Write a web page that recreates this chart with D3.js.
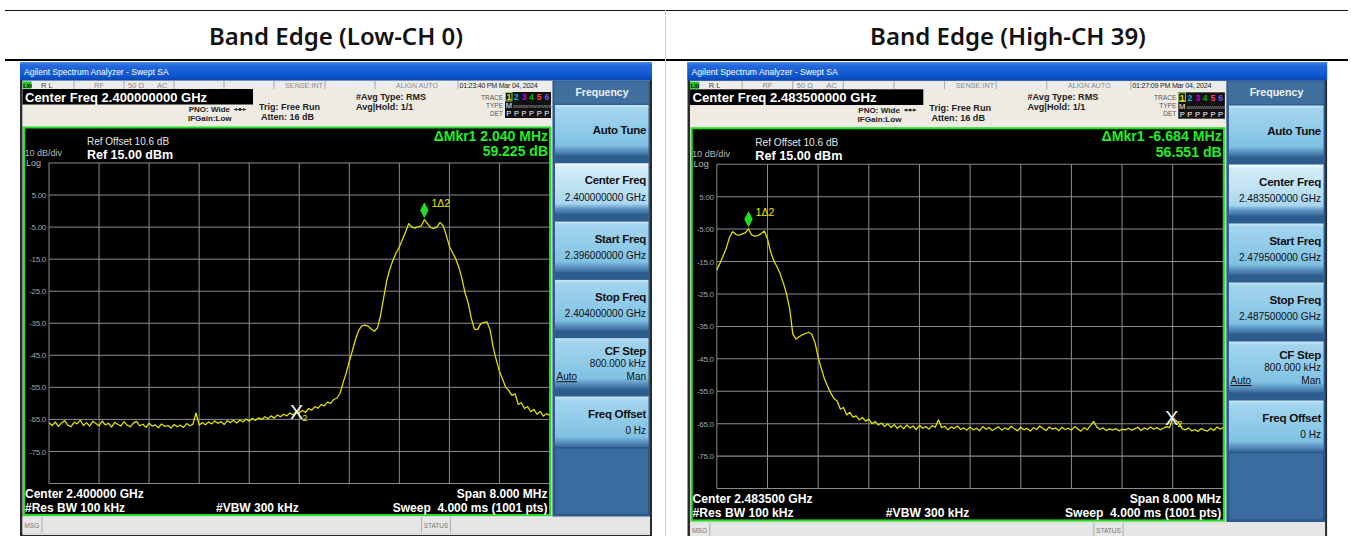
<!DOCTYPE html>
<html>
<head>
<meta charset="utf-8">
<script src="https://cdn.jsdelivr.net/npm/d3@7"></script>
<style>
  body { margin: 0; background: #fff; }
  svg { display: block; }
  text { font-family: "Liberation Sans", Arial, sans-serif; }
</style>
</head>
<body>
<div id="chart"></div>
<script>
// ---- data ----
const panelTitles = ["Band Edge (Low-CH 0)", "Band Edge (High-CH 39)"];
const startFreqs = [2.396, 2.4795];   // GHz
const stopFreqs = [2.404, 2.4875];    // GHz
const refLevel = 15;                   // dBm, top line
const dbPerDiv = 10;
const yTickValues = [5, -5, -15, -25, -35, -45, -55, -65, -75];
const yTickLabels = ["5.00", "-5.00", "-15.0", "-25.0", "-35.0", "-45.0", "-55.0", "-65.0", "-75.0"];

// trace values (dBm), 161 points across the 8 MHz span
const lowTrace = [
  -66.0, -66.9, -65.8, -67.2, -66.1, -65.4, -66.8, -67.3, -65.9, -66.4,
  -65.2, -66.9, -66.0, -67.1, -65.6, -66.3, -67.0, -65.5, -66.7, -66.2,
  -67.4, -65.9, -66.6, -67.0, -65.7, -66.8, -67.3, -66.1, -65.6, -67.0,
  -66.5, -67.5, -66.2, -67.1, -66.7, -67.6, -66.4, -67.2, -66.9, -67.7,
  -66.6, -67.3, -66.8, -67.5, -66.3, -67.0, -66.5, -63.0, -66.8, -66.0,
  -66.7, -65.8, -66.4, -65.5, -66.2, -65.7, -66.6, -65.4, -66.0, -65.3,
  -66.1, -65.2, -65.8, -64.9, -65.6, -64.7, -65.3, -64.5, -65.0, -64.2,
  -64.8, -63.9, -64.6, -63.6, -64.2, -63.4, -63.9, -63.0, -63.6, -62.6,
  -62.9, -62.2, -62.8, -61.6, -62.1, -61.0, -61.5, -60.4, -60.8, -59.6,
  -60.0, -58.8, -58.4, -57.0, -53.6, -50.5, -47.0, -43.5, -40.0, -37.2,
  -35.8, -35.6, -35.9, -36.8, -37.5, -36.5, -32.5, -27.0, -21.5, -18.0,
  -15.2, -13.0, -11.2, -8.8, -6.5, -3.9, -5.0, -5.3, -4.9, -4.6,
  -2.7, -3.9, -5.2, -5.4, -5.0, -3.5, -4.6, -7.5, -11.0, -13.0,
  -14.8, -17.5, -21.0, -25.5, -28.7, -33.5, -36.8, -37.0, -35.2, -34.7,
  -34.6, -37.0, -42.5, -46.5, -50.0, -52.5, -55.0, -56.0, -57.5, -57.0,
  -60.3, -59.8, -61.6, -61.0, -62.6, -61.9, -63.4, -62.5, -64.0, -63.2, -63.8
];
const highTrace = [
  -17.5, -15.5, -13.2, -10.8, -7.5, -5.8, -6.6, -6.9, -6.5, -6.2,
  -4.9, -6.8, -7.2, -7.0, -6.4, -5.6, -8.0, -12.0, -14.8, -16.6,
  -18.8, -21.6, -25.0, -29.5, -37.4, -38.9, -38.2, -37.6, -37.2, -36.8,
  -37.4, -40.0, -44.5, -48.0, -51.2, -53.5, -55.6, -57.2, -58.0, -60.5,
  -60.0, -62.3, -61.5, -63.0, -62.6, -63.8, -63.1, -64.2, -63.6, -65.0,
  -64.3, -65.4, -64.8, -65.9, -65.0, -66.2, -65.3, -66.4, -65.6, -66.6,
  -65.4, -66.3, -65.7, -66.8, -65.5, -66.4, -65.9, -66.7, -65.6, -66.1,
  -63.8, -66.2, -65.8, -66.9, -66.0, -66.5, -65.7, -66.8, -66.3, -67.0,
  -66.0, -66.9, -66.4, -67.2, -65.9, -66.7, -66.2, -67.1, -66.5, -66.0,
  -67.0, -66.3, -66.8, -65.8, -66.6, -67.2, -66.1, -66.9, -66.4, -67.3,
  -66.2, -66.8, -65.7, -66.5, -67.1, -66.0, -66.7, -66.3, -67.2, -66.1,
  -66.8, -66.4, -67.0, -65.9, -66.6, -67.3, -66.2, -66.9, -65.6, -64.3,
  -66.0, -66.8, -66.3, -67.1, -66.6, -66.9, -66.5, -67.2, -66.7, -66.9,
  -66.4, -67.0, -66.6, -66.1, -67.1, -66.3, -66.8, -66.0, -66.7, -66.2,
  -66.9, -66.4, -65.9, -66.2, -63.2, -64.0, -64.8, -66.6, -66.9, -66.3,
  -67.2, -66.8, -67.4, -66.5, -67.0, -67.3, -66.4, -67.1, -66.0, -66.7, -66.2
];
const traces = [lowTrace, highTrace];

const marker2Freqs = [2.39996, 2.486684];  // GHz, delta reference markers
const deltaMkrFreq = ["\u0394Mkr1 2.040 MHz", "\u0394Mkr1 -6.684 MHz"];
const deltaMkrLevel = ["59.225 dB", "56.551 dB"];
const centerFreqTitles = ["Center Freq 2.400000000 GHz", "Center Freq 2.483500000 GHz"];
const centerFreqValues = ["2.400000000 GHz", "2.483500000 GHz"];
const startFreqValues = ["2.396000000 GHz", "2.479500000 GHz"];
const stopFreqValues = ["2.404000000 GHz", "2.487500000 GHz"];
const footerCenters = ["Center 2.400000 GHz", "Center 2.483500 GHz"];
const timeStamps = ["01:23:40 PM Mar 04, 2024", "01:27:09 PM Mar 04, 2024"];

// ---- layout ----
const W = 1351, H = 536;
const panelOrigins = [[20, 62], [687.5, 62]];
const panelScales = [1, 1.012];
const titleCenters = [336, 1008];
const grid = { left: 29, right: 529.5, top: 101, bottom: 421.5 };

const svg = d3.select("#chart").append("svg")
  .attr("width", W)
  .attr("height", H);

const defs = svg.append("defs");

function addGradient(id, stops) {
  let grad = defs.append("linearGradient").attr("id", id)
    .attr("x1", 0).attr("y1", 0).attr("x2", 0).attr("y2", 1);
  stops.forEach(s => grad.append("stop").attr("offset", s[0]).attr("stop-color", s[1]));
}
addGradient("titleGrad", [[0, "#4a8cf0"], [0.18, "#2468dc"], [0.75, "#0e56d0"], [1, "#0a44b0"]]);
addGradient("btnGrad", [[0, "#cbe8f6"], [0.07, "#a4d4ee"], [0.5, "#8ecae8"], [0.8, "#80c0e2"], [0.9, "#5a92c0"], [1, "#386a9a"]]);
addGradient("btnSelGrad", [[0, "#f6fbfe"], [0.08, "#d4ecf8"], [0.5, "#bde0f3"], [0.8, "#a8d6ee"], [0.9, "#5a92c0"], [1, "#386a9a"]]);

// ---- table frame ----
svg.append("line").attr("x1", 5).attr("x2", 1348).attr("y1", 10.5).attr("y2", 10.5)
  .attr("stroke", "#111").attr("stroke-width", 1);
svg.append("line").attr("x1", 5).attr("x2", 1348).attr("y1", 60).attr("y2", 60)
  .attr("stroke", "#000").attr("stroke-width", 2);
svg.append("line").attr("x1", 665.5).attr("x2", 665.5).attr("y1", 10).attr("y2", H)
  .attr("stroke", "#d4d4d4").attr("stroke-width", 1);

svg.selectAll("text.colTitle")
  .data(panelTitles)
  .join("text")
  .attr("class", "colTitle")
  .attr("x", (d, i) => titleCenters[i])
  .attr("y", 44.5)
  .attr("text-anchor", "middle")
  .style("font-family", "'Noto Sans', 'Open Sans', sans-serif")
  .style("font-weight", 600)
  .style("font-size", "24px")
  .attr("fill", "#111")
  .text(d => d);

// ---- one analyzer screenshot ----
function drawAnalyzer(p) {
  let g = svg.append("g")
    .attr("transform", `translate(${panelOrigins[p][0]},${panelOrigins[p][1]}) scale(${panelScales[p]})`);

  function txt(x, y, s, size, fill, opts) {
    opts = opts || {};
    return g.append("text")
      .attr("x", x).attr("y", y)
      .attr("font-size", size)
      .attr("fill", fill)
      .attr("font-weight", opts.bold ? "bold" : "normal")
      .attr("text-anchor", opts.anchor || "start")
      .style("white-space", "pre")
      .text(s);
  }

  // window frame
  g.append("rect").attr("x", 0).attr("y", 0).attr("width", 632).attr("height", 480).attr("fill", "#2a2a2a");
  g.append("rect").attr("x", 2.5).attr("y", 18).attr("width", 627.5).attr("height", 455).attr("fill", "#dcdcdc");

  // title bar
  g.append("rect").attr("x", 0).attr("y", 0).attr("width", 632).attr("height", 18.5).attr("fill", "url(#titleGrad)");
  txt(4, 12.5, "Agilent Spectrum Analyzer - Swept SA", 8.5, "#ffffff");

  // status row
  g.append("rect").attr("x", 2.5).attr("y", 19).attr("width", 529.5).attr("height", 8).attr("fill", "#ececec");
  [54, 104, 154, 204, 254, 305, 355, 438].forEach(sx => {
    g.append("line").attr("x1", sx).attr("x2", sx).attr("y1", 19).attr("y2", 27).attr("stroke", "#a8a8a8");
  });
  g.append("rect").attr("x", 2.5).attr("y", 19.5).attr("width", 9).attr("height", 7).attr("fill", "#27c427");
  txt(3.2, 25.6, "LXI", 5.5, "#000", { bold: true });
  txt(21, 25.8, "R L", 7.5, "#444");
  txt(79, 25.8, "RF", 7.5, "#8a8a8a", { anchor: "middle" });
  txt(108, 25.8, "50 \u03A9", 7.5, "#8a8a8a");
  txt(137, 25.8, "AC", 7.5, "#8a8a8a");
  txt(303, 25.8, "SENSE:INT", 7.2, "#8a8a8a", { anchor: "end" });
  txt(397, 25.8, "ALIGN AUTO", 7, "#8a8a8a", { anchor: "middle" });
  txt(439.5, 25.8, timeStamps[p], 7.1, "#222").attr("letter-spacing", -0.25);

  // settings area
  g.append("rect").attr("x", 2.5).attr("y", 27).attr("width", 529.5).attr("height", 37.5).attr("fill", "#eeebe3");
  g.append("rect").attr("x", 2.5).attr("y", 27).attr("width", 230.5).attr("height", 15.5).attr("fill", "#000");
  txt(5, 40, centerFreqTitles[p], 13, "#fff", { bold: true });
  txt(210, 50, "PNO: Wide", 8, "#222", { bold: true, anchor: "end" });
  g.append("line").attr("x1", 214).attr("x2", 226).attr("y1", 47.5).attr("y2", 47.5)
    .attr("stroke", "#222").attr("stroke-width", 0.8);
  g.append("path").attr("d", "M214,47.5l3,-1.6v3.2Z M226,47.5l-3,-1.6v3.2Z").attr("fill", "#222");
  g.append("circle").attr("cx", 220).attr("cy", 47.5).attr("r", 1.4).attr("fill", "#222");
  txt(168, 59, "IFGain:Low", 8, "#222", { bold: true });
  txt(239, 48, "Trig: Free Run", 9, "#222", { bold: true });
  txt(241, 58, "Atten: 16 dB", 9, "#222", { bold: true });
  txt(336, 37.5, "#Avg Type: RMS", 9, "#222", { bold: true });
  txt(336, 47.5, "Avg|Hold: 1/1", 9, "#222", { bold: true });

  // trace legend block
  txt(483, 37.5, "TRACE", 6.5, "#555", { anchor: "end" });
  txt(483, 45.5, "TYPE", 6.5, "#555", { anchor: "end" });
  txt(483, 53.5, "DET", 6.5, "#555", { anchor: "end" });
  g.append("rect").attr("x", 485).attr("y", 30).attr("width", 46).attr("height", 26).attr("fill", "#111");
  const traceColors = ["#e8e800", "#00b4f0", "#d000d0", "#00b000", "#ff3c64", "#6a5cff"];
  g.append("rect").attr("x", 485.5).attr("y", 30.5).attr("width", 6.5).attr("height", 8.5)
    .attr("fill", "none").attr("stroke", "#9acd32").attr("stroke-width", 1);
  traceColors.forEach((c, i) => {
    txt(488.8 + i * 7.6, 38.3, String(i + 1), 8.5, c, { bold: true, anchor: "middle" });
    txt(488.8 + i * 7.6, 54.3, "P", 7.5, "#fff", { anchor: "middle" });
  });
  txt(488.8, 46.3, "M", 7.5, "#fff", { anchor: "middle" });
  txt(493, 46.3, "WWWWWWWWWW", 4.2, "#aaa");

  // display
  g.append("rect").attr("x", 4.2).attr("y", 65.5).attr("width", 525.8).attr("height", 387.5)
    .attr("fill", "#000").attr("stroke", "#1fe01f").attr("stroke-width", 2);

  let x = d3.scaleLinear().domain([startFreqs[p], stopFreqs[p]]).range([grid.left, grid.right]);
  let y = d3.scaleLinear().domain([refLevel, refLevel - 10 * dbPerDiv]).range([grid.top, grid.bottom]);
  let span = stopFreqs[p] - startFreqs[p];

  let gridG = g.append("g").attr("stroke", "#8c8c8c").attr("stroke-width", 1);
  gridG.selectAll("line.v").data(d3.range(11)).join("line")
    .attr("x1", i => x(startFreqs[p] + i * span / 10))
    .attr("x2", i => x(startFreqs[p] + i * span / 10))
    .attr("y1", grid.top).attr("y2", grid.bottom);
  gridG.selectAll("line.h").data(d3.range(11)).join("line")
    .attr("x1", grid.left).attr("x2", grid.right)
    .attr("y1", i => y(refLevel - i * dbPerDiv))
    .attr("y2", i => y(refLevel - i * dbPerDiv));

  let yAxis = d3.axisLeft(y)
    .tickValues(yTickValues)
    .tickFormat((d, i) => yTickLabels[i])
    .tickSize(0)
    .tickPadding(3);
  let ya = g.append("g").attr("transform", `translate(${grid.left},0)`).call(yAxis);
  ya.select(".domain").remove();
  ya.attr("font-family", "'Liberation Sans', Arial, sans-serif").attr("font-size", 8);
  ya.selectAll("text").attr("fill", "#a4a4a4").attr("letter-spacing", -0.3);

  // display annotations
  txt(67, 83, "Ref Offset 10.6 dB", 10, "#e6e6e6");
  txt(67, 96.5, "Ref 15.00 dBm", 12.5, "#fff", { bold: true });
  txt(4.5, 93.5, "10 dB/div", 9, "#b8b8b8");
  txt(6, 104, "Log", 9, "#b8b8b8");
  txt(528, 78.5, deltaMkrFreq[p], 14, "#22ee22", { bold: true, anchor: "end" });
  txt(528, 93.5, deltaMkrLevel[p], 14, "#22ee22", { bold: true, anchor: "end" });

  txt(5, 436, footerCenters[p], 12, "#fff", { bold: true });
  txt(5, 450, "#Res BW 100 kHz", 12, "#fff", { bold: true });
  txt(196, 450, "#VBW 300 kHz", 12, "#fff", { bold: true });
  txt(527.5, 436, "Span 8.000 MHz", 12, "#fff", { bold: true, anchor: "end" });
  txt(527.5, 450, "Sweep  4.000 ms (1001 pts)", 12, "#fff", { bold: true, anchor: "end" });

  // trace
  let trace = traces[p];
  let step = span / (trace.length - 1);
  let line = d3.line()
    .x((d, i) => x(startFreqs[p] + i * step))
    .y(d => y(d));
  g.append("path")
    .datum(trace)
    .attr("d", line)
    .attr("fill", "none")
    .attr("stroke", "#e4e400")
    .attr("stroke-width", 1.25)
    .attr("stroke-linejoin", "round");

  // marker 1 (peak) - green diamond
  let pk = d3.maxIndex(trace);
  let mx = x(startFreqs[p] + pk * step), my = y(trace[pk]);
  g.append("path")
    .attr("d", `M${mx},${my - 17.5}L${mx + 4.2},${my - 9.5}L${mx},${my - 1.5}L${mx - 4.2},${my - 9.5}Z`)
    .attr("fill", "#22dd22");
  txt(mx + 7, my - 12.5, "1\u03942", 10.5, "#e8e800");

  // marker 2 (reference) - white X
  let m2 = Math.round((marker2Freqs[p] - startFreqs[p]) / step);
  let m2x = x(marker2Freqs[p]), m2y = y(trace[m2]);
  txt(m2x, m2y + 7.5, "X", 20, "#f2f2f2", { anchor: "middle" }).attr("font-weight", 300);
  txt(m2x + 5.5, m2y + 9.5, "2", 9.5, "#e8e800");

  // message bar
  g.append("rect").attr("x", 2.5).attr("y", 455).attr("width", 627.5).attr("height", 16).attr("fill", "#e6e6e6");
  g.append("line").attr("x1", 22).attr("x2", 22).attr("y1", 455).attr("y2", 471).attr("stroke", "#b0b0b0");
  g.append("line").attr("x1", 401.5).attr("x2", 401.5).attr("y1", 455).attr("y2", 471).attr("stroke", "#b0b0b0");
  g.append("line").attr("x1", 430.5).attr("x2", 430.5).attr("y1", 455).attr("y2", 471).attr("stroke", "#b0b0b0");
  txt(4.5, 465.5, "MSG", 6.5, "#777");
  txt(416, 465.5, "STATUS", 6.5, "#777", { anchor: "middle" });

  // softkey menu
  g.append("rect").attr("x", 532.5).attr("y", 18.5).attr("width", 97.5).attr("height", 436).attr("fill", "#2d5d8e");
  g.append("rect").attr("x", 534.5).attr("y", 19.5).attr("width", 94).attr("height", 22).attr("fill", "#416f9d");
  txt(582, 34, "Frequency", 10.5, "#eef3f8", { bold: true, anchor: "middle" });
  g.append("rect").attr("x", 535).attr("y", 386).attr("width", 93.5).attr("height", 66.5)
    .attr("fill", "#3a6c9f").attr("stroke", "#2a5482");

  const menuItems = [
    { title: "Auto Tune" },
    { title: "Center Freq", value: centerFreqValues[p], selected: true },
    { title: "Start Freq", value: startFreqValues[p] },
    { title: "Stop Freq", value: stopFreqValues[p] },
    { title: "CF Step", value: "800.000 kHz", auto: true },
    { title: "Freq Offset", value: "0 Hz" }
  ];
  menuItems.forEach((m, k) => {
    let bt = 43 + k * 58.3;
    g.append("rect").attr("x", 535).attr("y", bt).attr("width", 93.5).attr("height", 50.5)
      .attr("fill", m.selected ? "url(#btnSelGrad)" : "url(#btnGrad)");
    if (!m.value) {
      txt(626, bt + 29, m.title, 11.5, "#111", { bold: true, anchor: "end" }).attr("letter-spacing", -0.3);
    } else if (m.auto) {
      txt(626, bt + 17, m.title, 11.5, "#111", { bold: true, anchor: "end" }).attr("letter-spacing", -0.3);
      txt(626, bt + 29, m.value, 10, "#111", { anchor: "end" });
      txt(536.5, bt + 42, "Auto", 10, "#111").attr("text-decoration", "underline");
      txt(626, bt + 42, "Man", 10, "#111", { anchor: "end" });
    } else {
      txt(626, bt + 21, m.title, 11.5, "#111", { bold: true, anchor: "end" }).attr("letter-spacing", -0.3);
      txt(626, bt + 37.5, m.value, 10, "#111", { anchor: "end" });
    }
  });
}

drawAnalyzer(0);
drawAnalyzer(1);
</script>
</body>
</html>
